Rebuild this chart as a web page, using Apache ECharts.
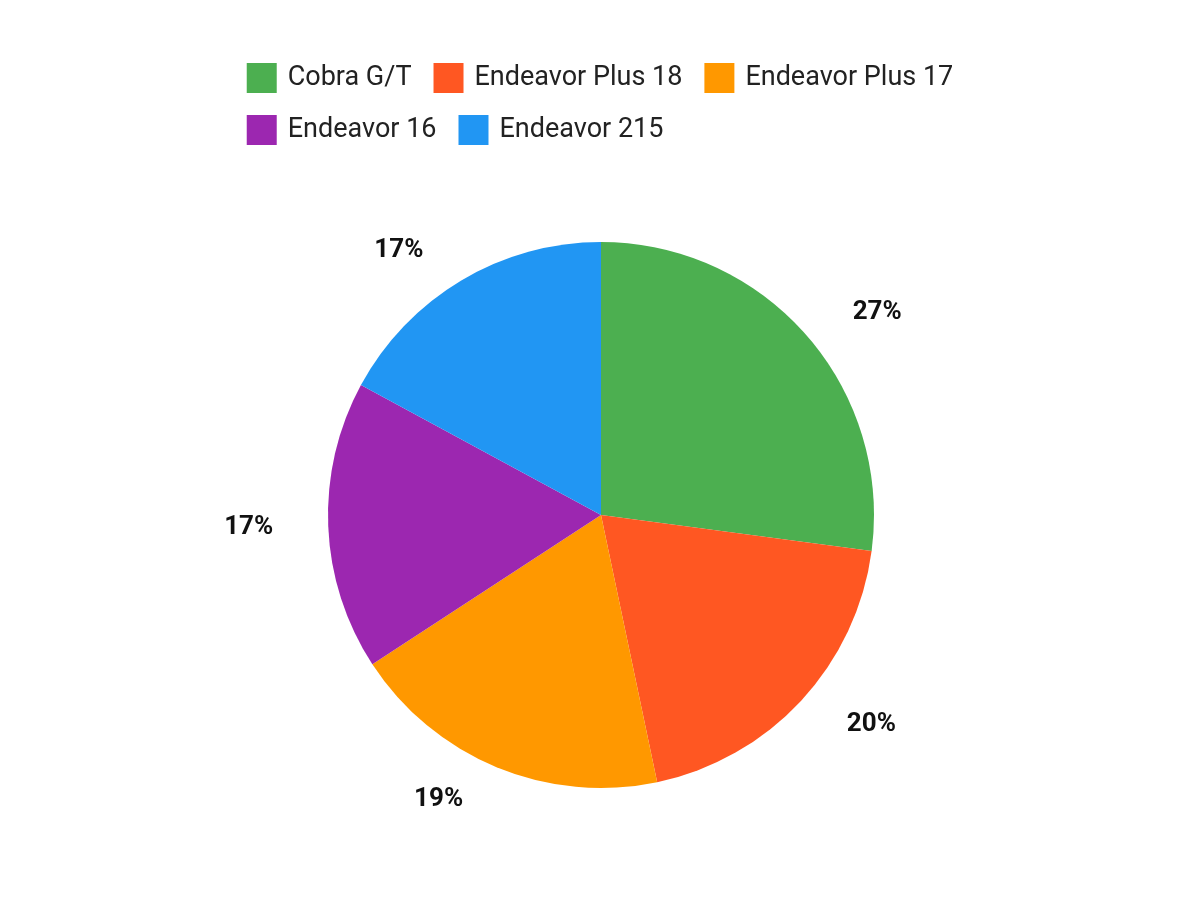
<!DOCTYPE html>
<html>
<head>
<meta charset="utf-8">
<script src="https://cdn.jsdelivr.net/npm/echarts@6/dist/echarts.min.js"></script>
<style>html,body{margin:0;padding:0;background:#fff}#chart{width:1200px;height:900px}</style>
</head>
<body>
<div id="chart"></div>
<script>
var names = ['Cobra G/T', 'Endeavor Plus 18', 'Endeavor Plus 17', 'Endeavor 16', 'Endeavor 215']
var values = [27.1, 19.6, 19.1, 17.1, 17.1]
var colors = ['#4caf50', '#ff5722', '#ff9800', '#9c27b0', '#2196f3']

var chart = echarts.init(document.getElementById('chart'))
var data = names.map(function (n, i) {
  return { name: n, value: values[i], itemStyle: { color: colors[i] } }
})
chart.setOption({
  textStyle: { fontFamily: 'Roboto' },
  legend: {
    top: 58,
    left: 'center',
    width: 860,
    itemWidth: 30,
    itemHeight: 30,
    itemGap: 22,
    icon: 'rect',
    textStyle: { fontSize: 27, color: '#222', fontFamily: 'Roboto', padding: [0, 0, 0, 6] },
    data: names
  },
  series: [{
    type: 'pie',
    center: [601, 515],
    radius: 273,
    startAngle: 90,
    clockwise: true,
    data: data,
    label: {
      show: true,
      position: 'outside',
      formatter: function (p) { return Math.round(p.percent) + '%' },
      fontSize: 26,
      fontWeight: 'bold',
      color: '#111',
      fontFamily: 'Roboto'
    },
    labelLine: { show: false, length: 35, length2: 15 },
    emphasis: { disabled: true }
  }]
})
</script>
</body>
</html>
